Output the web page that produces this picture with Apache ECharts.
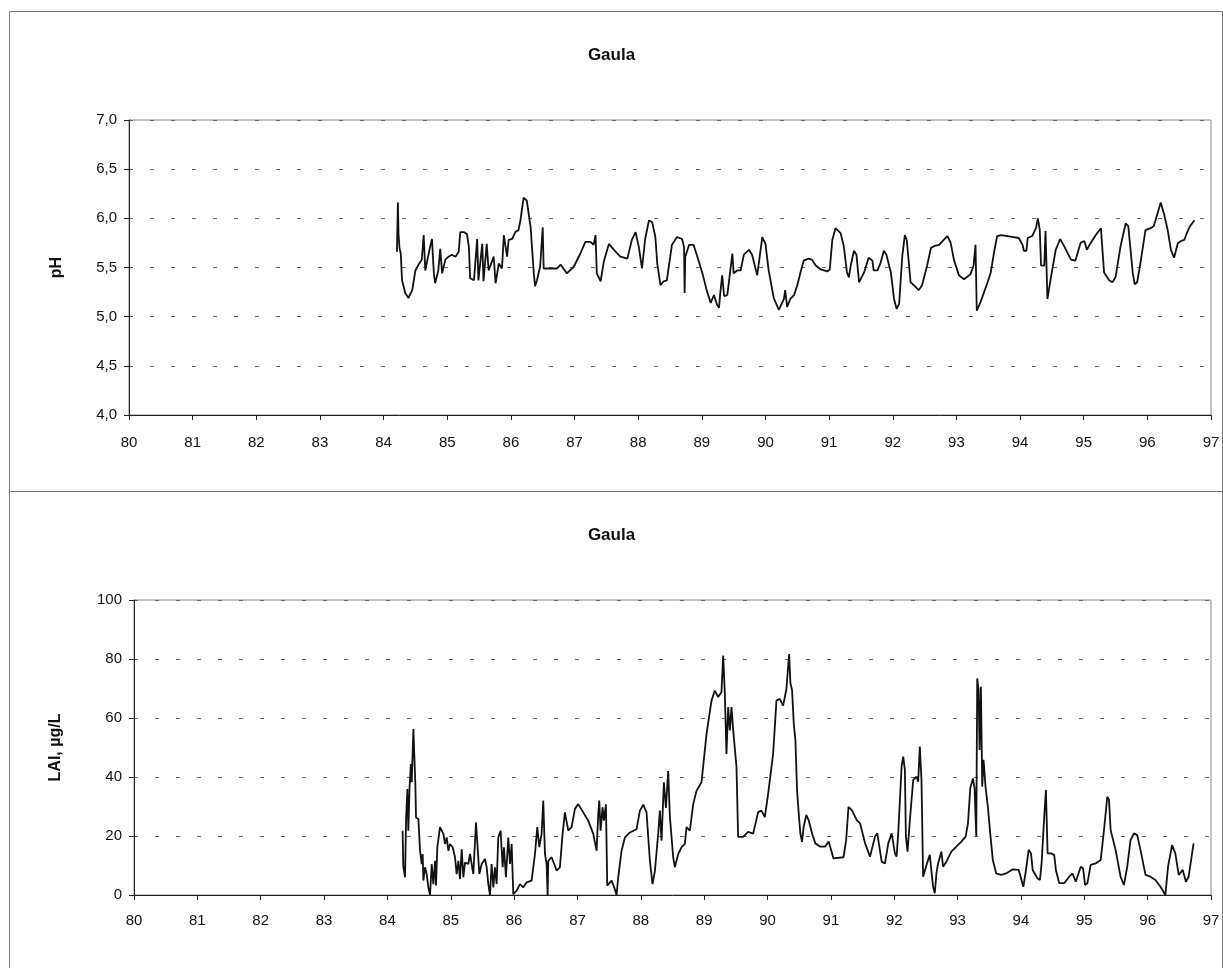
<!DOCTYPE html>
<html>
<head>
<meta charset="utf-8">
<title>Gaula</title>
<script src="https://cdn.jsdelivr.net/npm/echarts@6/dist/echarts.min.js"></script>
<style>
  html, body { margin: 0; padding: 0; background: #fff; }
  #chart { width: 1223px; height: 968px; }
</style>
</head>
<body>
<div id="chart"></div>
<script>
// Decimal years (19xx) and measured values, Gaula river
const phYears = [
  84.21, 84.215, 84.225, 84.235, 84.25, 84.27, 84.29, 84.34, 84.39, 84.45, 84.50, 84.55, 84.60, 84.63, 84.655,
  84.73, 84.76, 84.79, 84.81, 84.86, 84.89, 84.92, 84.97, 85.02, 85.07, 85.13, 85.18, 85.205, 85.26, 85.31,
  85.34, 85.36, 85.42, 85.47, 85.49, 85.55, 85.57, 85.62, 85.65, 85.73, 85.76, 85.81, 85.86, 85.89, 85.94,
  85.965, 86.02, 86.07, 86.12, 86.15, 86.20, 86.25, 86.31, 86.36, 86.38, 86.41, 86.46, 86.50, 86.515, 86.57,
  86.725, 86.78, 86.88, 86.99, 87.09, 87.17, 87.25, 87.30, 87.33, 87.35, 87.41, 87.46, 87.54, 87.62, 87.72,
  87.83, 87.90, 87.96, 88.01, 88.06, 88.11, 88.17, 88.22, 88.27, 88.30, 88.35, 88.40, 88.45, 88.53, 88.61,
  88.69, 88.72, 88.73, 88.74, 88.80, 88.87, 88.93, 89.01, 89.08, 89.14, 89.19, 89.24, 89.27, 89.29, 89.32,
  89.35, 89.40, 89.48, 89.50, 89.555, 89.61, 89.66, 89.74, 89.79, 89.87, 89.95, 90.00, 90.05, 90.13, 90.21,
  90.24, 90.29, 90.31, 90.34, 90.39, 90.45, 90.50, 90.55, 90.60, 90.68, 90.73, 90.79, 90.87, 90.97, 91.01,
  91.05, 91.10, 91.13, 91.18, 91.23, 91.28, 91.31, 91.34, 91.39, 91.43, 91.47, 91.49, 91.55, 91.62, 91.68,
  91.70, 91.76, 91.81, 91.86, 91.90, 91.97, 92.02, 92.06, 92.10, 92.15, 92.19, 92.22, 92.28, 92.33, 92.41,
  92.46, 92.54, 92.60, 92.66, 92.73, 92.80, 92.86, 92.91, 92.96, 93.04, 93.12, 93.22, 93.27, 93.30, 93.32,
  93.38, 93.49, 93.54, 93.59, 93.64, 93.70, 93.80, 93.90, 93.98, 94.04, 94.06, 94.10, 94.12, 94.19, 94.25,
  94.28, 94.31, 94.33, 94.38, 94.40, 94.43, 94.48, 94.56, 94.63, 94.69, 94.80, 94.87, 94.95, 95.01, 95.05,
  95.11, 95.19, 95.27, 95.32, 95.40, 95.45, 95.50, 95.58, 95.66, 95.70, 95.77, 95.80, 95.84, 95.90, 95.97,
  96.05, 96.10, 96.16, 96.21, 96.26, 96.32, 96.37, 96.42, 96.48, 96.53, 96.58, 96.62, 96.67, 96.74
];
const phValues = [
  5.66, 5.85, 6.16, 5.84, 5.70, 5.64, 5.37, 5.24, 5.19, 5.27, 5.47, 5.53, 5.58, 5.83, 5.47,
  5.71, 5.79, 5.44, 5.34, 5.47, 5.69, 5.44, 5.58, 5.61, 5.63, 5.61, 5.66, 5.86, 5.86, 5.84,
  5.71, 5.39, 5.37, 5.79, 5.37, 5.74, 5.36, 5.74, 5.47, 5.61, 5.34, 5.54, 5.49, 5.83, 5.61,
  5.78, 5.79, 5.86, 5.88, 5.98, 6.21, 6.18, 5.91, 5.44, 5.31, 5.37, 5.51, 5.91, 5.49, 5.49,
  5.49, 5.53, 5.44, 5.51, 5.64, 5.76, 5.76, 5.73, 5.83, 5.44, 5.36, 5.56, 5.74, 5.68, 5.61,
  5.59, 5.78, 5.86, 5.71, 5.49, 5.79, 5.98, 5.96, 5.81, 5.54, 5.32, 5.36, 5.37, 5.73, 5.81,
  5.79, 5.71, 5.24, 5.61, 5.73, 5.73, 5.61, 5.44, 5.26, 5.14, 5.22, 5.12, 5.09, 5.24, 5.42,
  5.21, 5.22, 5.64, 5.44, 5.47, 5.47, 5.63, 5.68, 5.63, 5.42, 5.81, 5.74, 5.47, 5.19, 5.07,
  5.08, 5.18, 5.27, 5.10, 5.18, 5.22, 5.32, 5.45, 5.57, 5.59, 5.58, 5.52, 5.48, 5.46, 5.48,
  5.78, 5.90, 5.91, 5.85, 5.72, 5.45, 5.40, 5.52, 5.67, 5.63, 5.35, 5.33, 5.45, 5.60, 5.57,
  5.47, 5.47, 5.55, 5.67, 5.63, 5.45, 5.18, 5.08, 5.13, 5.62, 5.83, 5.78, 5.35, 5.32, 5.27,
  5.32, 5.52, 5.70, 5.72, 5.73, 5.78, 5.82, 5.75, 5.58, 5.42, 5.38, 5.43, 5.52, 5.73, 5.06,
  5.15, 5.35, 5.45, 5.65, 5.82, 5.83, 5.82, 5.81, 5.80, 5.73, 5.67, 5.67, 5.80, 5.82, 5.90,
  6.00, 5.88, 5.52, 5.52, 5.87, 5.18, 5.38, 5.68, 5.79, 5.72, 5.58, 5.57, 5.75, 5.77, 5.68,
  5.75, 5.83, 5.90, 5.45, 5.37, 5.35, 5.40, 5.72, 5.95, 5.92, 5.45, 5.33, 5.35, 5.58, 5.88,
  5.90, 5.92, 6.05, 6.16, 6.05, 5.88, 5.68, 5.60, 5.75, 5.77, 5.78, 5.85, 5.92, 5.98
];

const laiYears = [
  84.24, 84.25, 84.278, 84.294, 84.315, 84.33, 84.35, 84.37, 84.384, 84.41, 84.426, 84.441, 84.452, 84.489, 84.515,
  84.541, 84.557, 84.568, 84.594, 84.62, 84.646, 84.673, 84.699, 84.725, 84.752, 84.767, 84.788, 84.83, 84.883, 84.909,
  84.936, 84.962, 84.988, 85.03, 85.067, 85.093, 85.12, 85.146, 85.172, 85.199, 85.225, 85.277, 85.304, 85.33, 85.356,
  85.398, 85.419, 85.451, 85.488, 85.54, 85.567, 85.593, 85.619, 85.645, 85.672, 85.698, 85.724, 85.75, 85.787, 85.819,
  85.84, 85.871, 85.908, 85.935, 85.961, 85.987, 86.003, 86.04, 86.092, 86.145, 86.198, 86.276, 86.329, 86.366, 86.397,
  86.434, 86.46, 86.487, 86.513, 86.529, 86.539, 86.592, 86.671, 86.723, 86.765, 86.802, 86.855, 86.907, 86.96, 87.012,
  87.091, 87.17, 87.249, 87.302, 87.328, 87.344, 87.365, 87.396, 87.417, 87.449, 87.47, 87.538, 87.58, 87.617, 87.643,
  87.696, 87.749, 87.828, 87.933, 87.985, 88.038, 88.09, 88.143, 88.185, 88.222, 88.274, 88.301, 88.327, 88.364, 88.396,
  88.432, 88.459, 88.511, 88.537, 88.59, 88.643, 88.695, 88.721, 88.774, 88.827, 88.879, 88.958, 89.037, 89.116, 89.168,
  89.221, 89.273, 89.30, 89.326, 89.352, 89.379, 89.405, 89.431, 89.458, 89.484, 89.51, 89.536, 89.615, 89.694, 89.773,
  89.852, 89.904, 89.957, 90.009, 90.088, 90.141, 90.193, 90.246, 90.298, 90.341, 90.361, 90.387, 90.414, 90.44, 90.466,
  90.492, 90.518, 90.544, 90.571, 90.613, 90.649, 90.702, 90.754, 90.833, 90.911, 90.964, 90.99, 91.042, 91.199, 91.241,
  91.278, 91.33, 91.409, 91.461, 91.54, 91.618, 91.697, 91.733, 91.765, 91.802, 91.854, 91.906, 91.959, 92.011, 92.037,
  92.063, 92.116, 92.142, 92.168, 92.184, 92.21, 92.247, 92.299, 92.352, 92.378, 92.404, 92.43, 92.456, 92.509, 92.561,
  92.587, 92.613, 92.64, 92.666, 92.692, 92.744, 92.771, 92.823, 92.902, 92.98, 93.059, 93.127, 93.164, 93.20, 93.242,
  93.268, 93.295, 93.31, 93.331, 93.347, 93.368, 93.389, 93.41, 93.441, 93.478, 93.515, 93.556, 93.609, 93.687, 93.766,
  93.871, 93.965, 94.002, 94.038, 94.08, 94.122, 94.159, 94.185, 94.263, 94.30, 94.326, 94.368, 94.394, 94.421, 94.473,
  94.525, 94.552, 94.604, 94.683, 94.761, 94.813, 94.866, 94.944, 94.981, 95.012, 95.049, 95.101, 95.18, 95.259, 95.311,
  95.363, 95.39, 95.416, 95.494, 95.573, 95.625, 95.678, 95.73, 95.783, 95.835, 95.887, 95.966, 96.044, 96.123, 96.202,
  96.28, 96.322, 96.385, 96.437, 96.49, 96.553, 96.605, 96.647, 96.725
];
const laiValues = [
  21.8, 9.9, 6.0, 25.2, 35.9, 21.8, 36.5, 44.4, 38.2, 56.3, 56.8, 37.6, 26.3, 25.8, 15.0,
  10.5, 13.9, 4.9, 9.4, 7.1, 2.6, 0, 10.5, 3.7, 11.6, 3.2, 16.2, 23.0, 20.7, 17.3,
  19.5, 15.0, 17.3, 16.2, 12.8, 7.1, 11.6, 5.4, 15.5, 6.0, 11.0, 10.5, 13.9, 10.5, 7.1,
  24.6, 24.0, 7.1, 10.5, 12.2, 9.4, 3.7, 0, 10.5, 2.6, 9.4, 3.7, 19.5, 21.8, 9.4,
  16.2, 6.0, 19.5, 10.5, 17.3, 0.3, 0, 1.5, 3.7, 2.6, 4.3, 4.9, 13.9, 23.0, 16.2,
  20.7, 32.0, 13.9, 10.5, 0, 11.6, 12.8, 8.3, 9.4, 20.7, 28.0, 21.8, 23.0, 29.2, 30.8,
  28.0, 25.2, 20.7, 15.0, 27.5, 32.0, 21.8, 29.7, 25.2, 30.8, 3.2, 4.9, 2.6, 0, 6.0,
  15.0, 19.5, 21.2, 22.3, 28.6, 30.6, 28.0, 11.6, 3.7, 8.2, 20.7, 28.6, 18.4, 38.2, 29.5,
  42.0, 26.4, 12.8, 9.4, 13.9, 16.2, 17.3, 23.0, 21.8, 30.8, 35.3, 38.2, 54.6, 65.9, 69.3,
  67.1, 68.8, 81.2, 68.2, 47.8, 63.7, 55.8, 63.7, 55.8, 55.8, 43.4, 19.7, 19.7, 21.4, 20.8,
  28.1, 28.6, 26.4, 34.2, 47.8, 65.9, 66.5, 64.2, 69.8, 81.7, 71.8, 69.5, 58.2, 52.5, 35.6,
  27.7, 20.9, 18.0, 23.2, 27.1, 25.4, 20.9, 17.5, 16.4, 16.4, 18.1, 17.5, 12.4, 12.8, 18.6,
  29.9, 28.8, 25.4, 24.3, 17.5, 13.0, 19.8, 20.9, 16.4, 11.3, 10.7, 17.5, 20.9, 14.1, 13.0,
  20.9, 43.5, 46.9, 42.4, 19.8, 14.7, 25.4, 39.0, 40.1, 38.4, 50.3, 39.0, 6.2, 10.2, 13.6,
  13.0, 2.8, 0.6, 7.3, 10.7, 14.7, 9.6, 11.3, 14.7, 16.4, 18.1, 19.8, 24.3, 36.2, 39.5,
  36.2, 19.8, 73.4, 69.5, 49.2, 70.6, 36.7, 45.8, 36.7, 29.9, 20.9, 11.9, 7.3, 6.8, 7.3,
  8.7, 8.5, 5.6, 2.8, 8.5, 15.3, 14.1, 8.5, 5.6, 5.1, 10.7, 26.6, 35.6, 14.1, 14.1,
  13.6, 8.5, 4.0, 4.0, 6.2, 7.3, 4.5, 9.6, 9.0, 3.4, 4.0, 10.2, 10.7, 11.9, 22.0,
  33.3, 32.2, 22.0, 15.3, 6.2, 3.4, 9.6, 18.6, 20.9, 20.3, 15.3, 6.8, 6.2, 5.1, 2.8,
  0, 9.6, 16.9, 14.1, 6.8, 8.5, 4.5, 6.2, 17.5
];

const yearTicks = { min: 80, max: 97, interval: 1 };
const chartTitle = 'Gaula';

const pairs = (xs, ys) => xs.map((x, i) => [x, ys[i]]);
const FONT = 'Arial, "Liberation Sans", sans-serif';
const comma1 = v => v.toFixed(1).replace('.', ',');

const xAxisBase = (gridIndex, margin) => ({
  type: 'value',
  gridIndex,
  min: yearTicks.min,
  max: yearTicks.max,
  interval: yearTicks.interval,
  axisLine: { show: true, onZero: false, lineStyle: { color: '#222', width: 1 } },
  axisTick: { show: true, length: 5, lineStyle: { color: '#222' } },
  axisLabel: { color: '#111', fontSize: 15, fontFamily: FONT, margin },
  splitLine: { show: false }
});

const yAxisBase = (gridIndex, extra) => Object.assign({
  type: 'value',
  gridIndex,
  nameLocation: 'middle',
  nameTextStyle: { color: '#111', fontSize: 16, fontWeight: 'bold', fontFamily: FONT },
  axisLine: { show: true, lineStyle: { color: '#222', width: 1 } },
  axisTick: { show: true, length: 5, lineStyle: { color: '#222' } },
  axisLabel: { color: '#111', fontSize: 15, fontFamily: FONT, margin: 12 },
  splitLine: { show: true, lineStyle: { color: '#666', type: [4, 17], width: 1 } }
}, extra);

const lineSeries = (idx, data) => ({
  type: 'line',
  xAxisIndex: idx,
  yAxisIndex: idx,
  data,
  showSymbol: false,
  symbol: 'none',
  smooth: false,
  clip: true,
  lineStyle: { color: '#111', width: 1.8 },
  emphasis: { disabled: true },
  animation: false
});

const chart = echarts.init(document.getElementById('chart'), null, { renderer: 'canvas' });

chart.setOption({
  backgroundColor: '#fff',
  animation: false,
  title: [
    { text: chartTitle, left: 'center', top: 42,
      textStyle: { fontSize: 17, fontWeight: 'bold', color: '#111', fontFamily: FONT } },
    { text: chartTitle, left: 'center', top: 522,
      textStyle: { fontSize: 17, fontWeight: 'bold', color: '#111', fontFamily: FONT } }
  ],
  grid: [
    { left: 129, top: 120, width: 1082, height: 295, show: true,
      borderColor: '#888', borderWidth: 1, backgroundColor: 'transparent' },
    { left: 134, top: 600, width: 1077, height: 295, show: true,
      borderColor: '#888', borderWidth: 1, backgroundColor: 'transparent' }
  ],
  xAxis: [xAxisBase(0, 20), xAxisBase(1, 18)],
  yAxis: [
    yAxisBase(0, { name: 'pH', nameGap: 64, min: 4, max: 7, interval: 0.5,
      axisLabel: { color: '#111', fontSize: 15, fontFamily: FONT, margin: 12, formatter: comma1 } }),
    yAxisBase(1, { name: 'LAI, µg/L', nameGap: 70, min: 0, max: 100, interval: 20 })
  ],
  series: [
    lineSeries(0, pairs(phYears, phValues)),
    lineSeries(1, pairs(laiYears, laiValues))
  ],
  graphic: [
    // panel frames
    { type: 'rect', x: 9.5, y: 11.5, shape: { width: 1213, height: 480 },
      style: { fill: 'none', stroke: '#777', lineWidth: 1 }, silent: true },
    { type: 'rect', x: 9.5, y: 491.5, shape: { width: 1213, height: 490 },
      style: { fill: 'none', stroke: '#777', lineWidth: 1 }, silent: true }
  ]
});
</script>
</body>
</html>
